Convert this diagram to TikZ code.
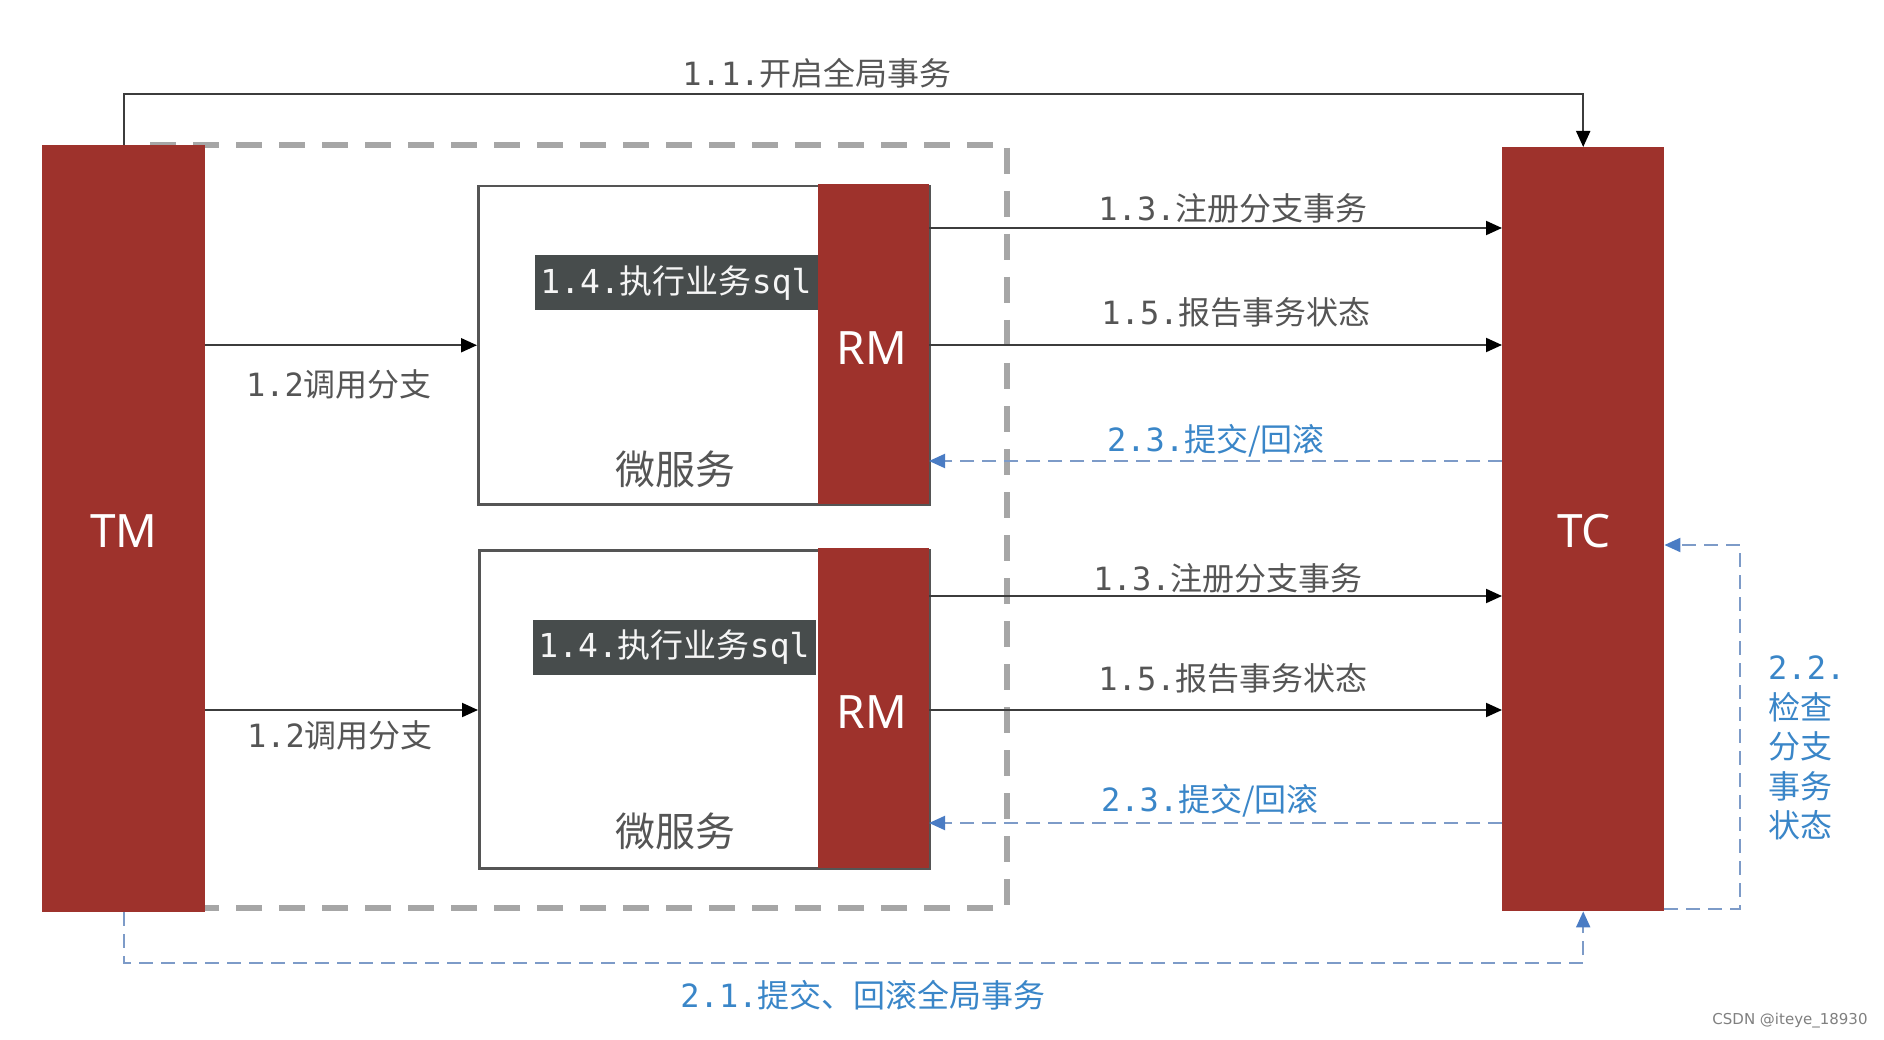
\documentclass[tikz,border=0pt]{standalone}
\usepackage{fontspec}
\newfontfamily\cjk{Noto Sans CJK SC}
\newfontfamily\mono{DejaVu Sans Mono}
\newfontfamily\sansf{Noto Sans}
\newfontfamily\wmfont{DejaVu Sans}
\usetikzlibrary{arrows.meta,calc}
\definecolor{seatared}{RGB}{158,50,44}
\definecolor{boxgray}{RGB}{85,85,85}
\definecolor{darkbg}{RGB}{71,76,76}
\definecolor{linegray}{RGB}{60,60,60}
\definecolor{labelgray}{RGB}{85,85,85}
\definecolor{dashgray}{RGB}{166,166,166}
\definecolor{bluedash}{RGB}{125,155,200}
\definecolor{bluehead}{RGB}{74,124,196}
\definecolor{bluetext}{RGB}{58,134,200}
\newcommand\mlbl[2]{{\mono #1}{\cjk #2}}
\begin{document}
\begin{tikzpicture}[x=1pt,y=-1pt,
  redbox/.style={fill=seatared, draw=none, inner sep=0pt, text=white, font=\sansf\fontsize{46}{56}\selectfont},
  svcbox/.style={draw=boxgray, line width=2.5pt, fill=white, inner sep=0pt},
  darklbl/.style={fill=darkbg, text=white!92!gray, inner sep=0pt, minimum width=283pt, minimum height=55pt, font=\fontsize{33}{38}\selectfont},
  arr/.style={draw=linegray, line width=2pt, -{Triangle[length=16pt,width=14pt,color=black]}},
  bluearr/.style={draw=bluedash, line width=2pt, dash pattern=on 14pt off 8pt, -{Triangle[length=16pt,width=14pt,color=bluehead]}},
  gbox/.style={draw=dashgray, line width=6pt, dash pattern=on 26pt off 17pt},
  lbl/.style={text=labelgray, font=\fontsize{32}{38}\selectfont, inner sep=0pt},
  bluelbl/.style={lbl, text=bluetext},
  svctext/.style={text=labelgray, font=\cjk\fontsize{40}{46}\selectfont, inner sep=0pt},
  wm/.style={text=gray, font=\wmfont\fontsize{15}{18}\selectfont, inner sep=0pt}
]
\useasboundingbox (0,0) rectangle (1884,1040);
\fill[white] (0,0) rectangle (1884,1040);

% dashed gray boundary
\draw[gbox] (150,145) -- (1007,145) -- (1007,908) -- (150,908);

% TM and TC
\node[redbox, anchor=north west, minimum width=163pt, minimum height=767pt] (TM) at (42,145) {};
\node[redbox] at (124,531) {TM};
\node[redbox, anchor=north west, minimum width=162pt, minimum height=764pt] (TC) at (1502,147) {};
\node[redbox] at (1584,531) {TC};

% microservice boxes
\node[svcbox, anchor=north west, minimum width=451pt, minimum height=318pt] (S1) at (477,185) {};
\node[redbox, anchor=north east, minimum width=111pt, minimum height=320pt] (RM1) at (929,184) {};
\node[redbox] at (872,348) {RM};
\node[darklbl] (D1) at (676,283) {\mlbl{1.4.}{执行业务}{\mono sql}};
\node[svctext] (W1) at (675,469) {微服务};

\node[svcbox, anchor=north west, minimum width=450pt, minimum height=318pt] (S2) at (478,549) {};
\node[redbox, anchor=north east, minimum width=111pt, minimum height=320pt] (RM2) at (929,548) {};
\node[redbox] at (872,712) {RM};
\node[darklbl] (D2) at (674,647) {\mlbl{1.4.}{执行业务}{\mono sql}};
\node[svctext] (W2) at (675,831) {微服务};

% 1.1
\draw[arr] (TM.north) |- (TC.north |- 0,94) -- (TC.north);
\node[lbl] at (817,73) {\mlbl{1.1.}{开启全局事务}};

% 1.2
\draw[arr] (S1.west -| TM.east) -- (S1.west);
\node[lbl] at (339,384) {\mlbl{1.2}{调用分支}};
\draw[arr] (TM.east |- 0,710) -- (S2.west |- 0,710);
\node[lbl] at (340,735) {\mlbl{1.2}{调用分支}};

% upper RM to TC
\draw[arr] (RM1.east |- 0,228) -- (TC.west |- 0,228);
\node[lbl] at (1233,208) {\mlbl{1.3.}{注册分支事务}};
\draw[arr] (RM1.east |- 0,345) -- (TC.west |- 0,345);
\node[lbl] at (1236,312) {\mlbl{1.5.}{报告事务状态}};
\draw[bluearr] (TC.west |- 0,461) -- (RM1.east |- 0,461);
\node[bluelbl] at (1216,441) {\mlbl{2.3.}{提交/回滚}};

% lower RM to TC
\draw[arr] (RM2.east |- 0,596) -- (TC.west |- 0,596);
\node[lbl] at (1228,578) {\mlbl{1.3.}{注册分支事务}};
\draw[arr] (RM2.east |- 0,710) -- (TC.west |- 0,710);
\node[lbl] at (1233,678) {\mlbl{1.5.}{报告事务状态}};
\draw[bluearr] (TC.west |- 0,823) -- (RM2.east |- 0,823);
\node[bluelbl] at (1210,801) {\mlbl{2.3.}{提交/回滚}};

% 2.2 loop
\draw[bluearr] (TC.south east |- 0,909) -- (1740,909) |- (TC.east |- 0,545);
\node[bluelbl, align=left, font=\fontsize{32}{39.5}\selectfont, anchor=north west] at (1768,656) {{\mono 2.2.}\\{\cjk 检查}\\{\cjk 分支}\\{\cjk 事务}\\{\cjk 状态}};

% 2.1
\draw[bluearr] (TM.south) |- (TC.south |- 0,963) -- (TC.south);
\node[bluelbl] at (863,995) {\mlbl{2.1.}{提交、回滚全局事务}};

% watermark
\node[wm] at (1790,1021) {CSDN @iteye\_18930};
\end{tikzpicture}
\end{document}
